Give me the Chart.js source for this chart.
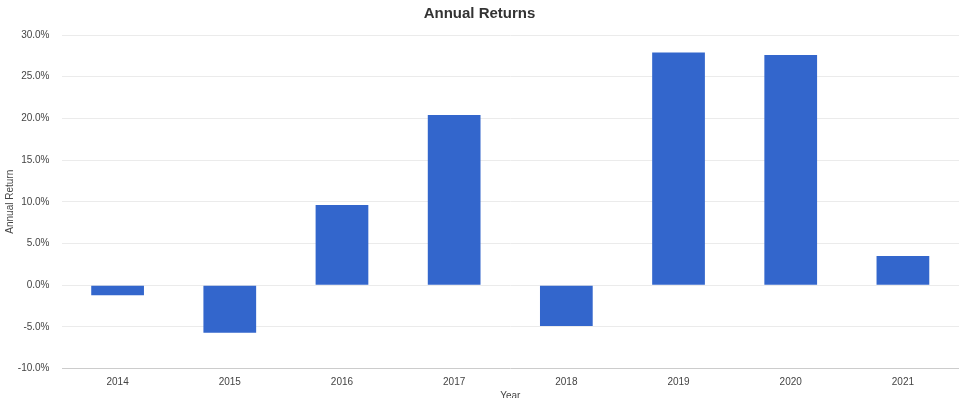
<!DOCTYPE html>
<html>
<head>
<meta charset="utf-8">
<script src="https://cdn.jsdelivr.net/npm/chart.js@4"></script>
<style>
  html, body { margin: 0; padding: 0; background: #fff; }
  #wrap { width: 966px; height: 398px; }
</style>
</head>
<body>
<div id="wrap"><canvas id="myChart" width="966" height="398"></canvas></div>
<script>
const years = ['2014', '2015', '2016', '2017', '2018', '2019', '2020', '2021'];
const returns = [-1.2, -5.7, 9.6, 20.4, -4.9, 27.9, 27.6, 3.5];
const yTicks = [-10, -5, 0, 5, 10, 15, 20, 25, 30];

const ctx = document.getElementById('myChart').getContext('2d');
new Chart(ctx, {
  type: 'bar',
  data: {
    labels: years,
    datasets: [{
      data: returns,
      label: 'Annual Return',
      backgroundColor: '#3366cc',
      borderWidth: 0,
      barPercentage: 0.47,
      categoryPercentage: 1
    }]
  },
  options: {
    responsive: false,
    animation: false,
    layout: { padding: { top: 0, right: 7, left: 0, bottom: -4 } },
    plugins: {
      legend: { display: false },
      tooltip: { enabled: false },
      title: {
        display: true,
        text: 'Annual Returns',
        color: '#333',
        font: { family: 'Liberation Sans, Arial', size: 15, weight: 'bold' },
        padding: { top: 5, bottom: 12 }
      }
    },
    scales: {
      x: {
        grid: { display: false, drawTicks: false },
        border: { display: false },
        ticks: {
          color: '#444',
          padding: 8,
          font: { family: 'Liberation Sans, Arial', size: 10 }
        },
        title: {
          display: true,
          text: 'Year',
          color: '#444',
          padding: 0,
          font: { family: 'Liberation Sans, Arial', size: 10 }
        },
        afterFit: (scale) => { scale.height = 33.5; }
      },
      y: {
        min: -10,
        max: 30,
        afterBuildTicks: (scale) => { scale.ticks = yTicks.map(v => ({ value: v })); },
        grid: {
          drawTicks: false,
          color: (c) => (c.tick && c.tick.value === -10 ? '#cccccc' : '#ebebeb')
        },
        border: { display: false },
        ticks: {
          color: '#444',
          padding: 12,
          font: { family: 'Liberation Sans, Arial', size: 10 },
          callback: (v) => v.toFixed(1) + '%'
        },
        title: {
          display: true,
          text: 'Annual Return',
          color: '#444',
          padding: { top: 4, bottom: 0 },
          font: { family: 'Liberation Sans, Arial', size: 10 }
        },
        afterFit: (scale) => { scale.width = 61.5; }
      }
    }
  }
});
</script>
</body>
</html>
